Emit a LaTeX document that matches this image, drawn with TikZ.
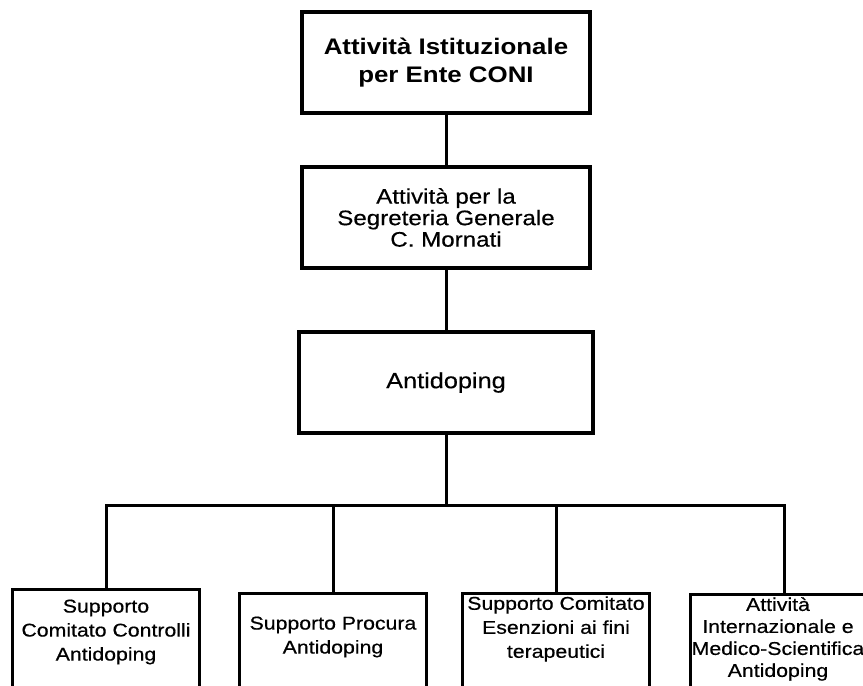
\documentclass[tikz,border=0pt]{standalone}
\usepackage{fontspec}
\setmainfont{Liberation Sans}[FakeStretch=1.15, UprightFeatures={FakeBold=0.5}]
\usetikzlibrary{positioning}
\tikzset{
    unitbox/.style={
        draw=black,
        line width=3.2pt,
        minimum width=288pt,
        minimum height=101pt,
        align=center,
        inner sep=0pt
    },
    % riquadri in basso, tagliati dal bordo
    leafbox/.style={
        draw=black,
        line width=3.2pt,
        minimum width=187pt,
        minimum height=110pt,
        anchor=north,
        inner sep=0pt
    },
    leaftext/.style={
        align=center,
        inner sep=0pt,
        font=\fontsize{18.5}{24}\selectfont
    },
    link/.style={
        line width=3pt,
        black
    }
}

\begin{document}
\begin{tikzpicture}[x=1pt,y=-1pt]
    \useasboundingbox (0,0) rectangle (863,686);
    \clip (0,0) rectangle (863,686);

    % ===================== catena centrale =====================
    \node[unitbox, font=\fontsize{22.5}{28}\selectfont\bfseries] (coni) at (446,62.5)
        {Attività Istituzionale\\per Ente CONI};
    \node[unitbox, font=\fontsize{21}{21.5}\selectfont] (segr) at (446,217.5)
        {Attività per la\\Segreteria Generale\\C. Mornati};
    \node[unitbox, minimum width=294pt, font=\fontsize{22}{26}\selectfont] (antid) at (446,382.5)
        {Antidoping};

    % ===================== riquadri in basso =====================
    \node[leafbox] (sccad) at (106,588) {};
    \node[leafbox] (spad) at (333,592) {};
    \node[leafbox] (scetf) at (556,592) {};
    \node[leafbox] (aimsad) at (784,593) {};

    \node[leaftext] (sccad_t) at ([yshift=-44pt]sccad.north)
        {Supporto\\Comitato Controlli\\Antidoping};
    \node[leaftext] (spad_t) at ([yshift=-45pt]spad.north)
        {Supporto Procura\\Antidoping};
    \node[leaftext] (scetf_t) at ([yshift=-37pt]scetf.north)
        {Supporto Comitato\\Esenzioni ai fini\\terapeutici};
    \node[leaftext, font=\fontsize{18.5}{22}\selectfont] (aimsad_t) at ([xshift=-6pt,yshift=-46pt]aimsad.north)
        {Attività\\Internazionale e\\Medico-Scientifica\\Antidoping};

    % ===================== collegamenti =====================
    \coordinate (bus) at (446,505);
    \draw[link] (coni) -- (segr);
    \draw[link] (segr) -- (antid);
    \draw[link] (antid) -- (bus);
    \draw[link] (sccad.north) |- (bus) -| (aimsad.north);
    \draw[link] (spad.north) -- (spad.north |- bus);
    \draw[link] (scetf.north) -- (scetf.north |- bus);
\end{tikzpicture}
\end{document}
